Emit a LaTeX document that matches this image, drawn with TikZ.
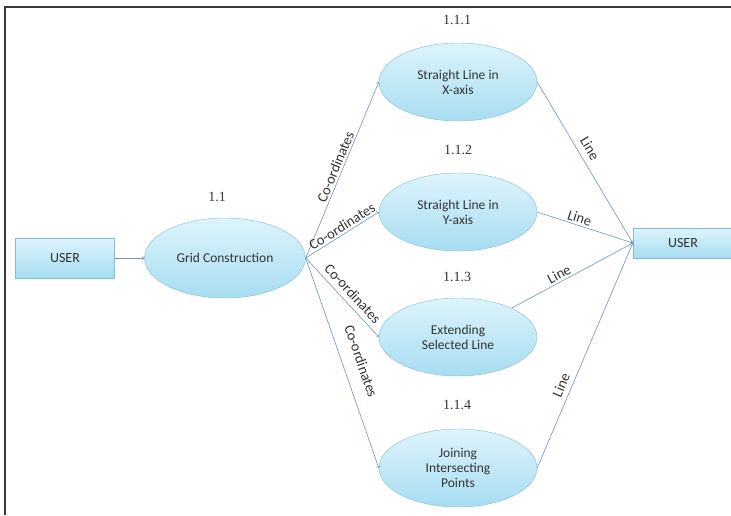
\documentclass[tikz,border=0pt]{standalone}
\usepackage{fontspec}
\setmainfont{Carlito}
\newfontfamily\numfont{Liberation Serif}
\usetikzlibrary{shapes}

\definecolor{proctop}{HTML}{DDF4FC}
\definecolor{procbot}{HTML}{A7DDF1}
\definecolor{procline}{HTML}{86BCD3}
\definecolor{flowline}{HTML}{7193C2}
\definecolor{txt}{HTML}{333333}
\definecolor{frameline}{HTML}{3A3A3A}

\tikzset{
  proc/.style={ellipse, draw=procline, top color=proctop, bottom color=procbot,
    minimum width=158pt, minimum height=78pt, inner sep=0pt, align=center,
    text=txt, font=\fontsize{13.5}{15}\selectfont},
  ext/.style={rectangle, draw=procline, top color=proctop, bottom color=procbot,
    minimum width=99pt, inner sep=0pt, text=txt, font=\fontsize{14}{15}\selectfont},
  flow/.style={draw=flowline, line width=0.6pt, ->},
  num/.style={text=txt, font=\numfont\fontsize{14}{15}\selectfont},
  lbl/.style={sloped, above, inner sep=2pt, text=txt, font=\fontsize{14.5}{15}\selectfont}
}

\begin{document}
\begin{tikzpicture}[x=1pt,y=-1pt]

\useasboundingbox (0,0) rectangle (731,515);

%% frame
\draw[frameline, line width=1.4pt] (5,515) -- (5,7) -- (731,7);

%% user and the grid step
\node[ext, minimum height=40pt] (usrL) at (65,258) {USER};
\node[proc, minimum width=161pt, minimum height=80pt] (grid) at (225,258) {Grid Construction};
\node[num] (n11) at (217,197) {1.1};

\draw[flow] (usrL) -- (grid);

%% the four line steps
\node[proc] (sx) at (458,82) {Straight Line in\\X-axis};
\node[proc] (sy) at (458,212) {Straight Line in\\Y-axis};
\node[proc] (ext) at (458,337) {Extending\\Selected Line};
\node[proc] (join) at (458,468) {Joining\\Intersecting\\Points};

\node[num] (n111) at (457,20) {1.1.1};
\node[num] (n112) at (458,150) {1.1.2};
\node[num] (n113) at (457,277) {1.1.3};
\node[num] (n114) at (457,405) {1.1.4};

\draw[flow] (grid.east) -- node[lbl, pos=0.5]{Co-ordinates} (sx.west);
\draw[flow] (grid.east) -- node[lbl, pos=0.55]{Co-ordinates} (sy.west);
\draw[flow] (grid.east) -- node[lbl, pos=0.54, above=3pt]{Co-ordinates} (ext.west);
\draw[flow] (grid.east) -- node[lbl, pos=0.52, above=11pt]{Co-ordinates} (join.west);

%% back to the user
\node[ext, minimum height=30pt, minimum width=100pt] (usrR) at (683,243) {USER};

\draw[flow] (sx.east) -- node[lbl, pos=0.45, above=4pt]{Line} (usrR.west);
\draw[flow] (sy.east) -- node[lbl, pos=0.42]{Line} (usrR.west);
\draw[flow] (ext) -- node[lbl, pos=0.42]{Line} (usrR.west);
\draw[flow] (join.east) -- node[lbl, pos=0.35, above=3pt]{Line} (usrR.west);

\end{tikzpicture}
\end{document}
